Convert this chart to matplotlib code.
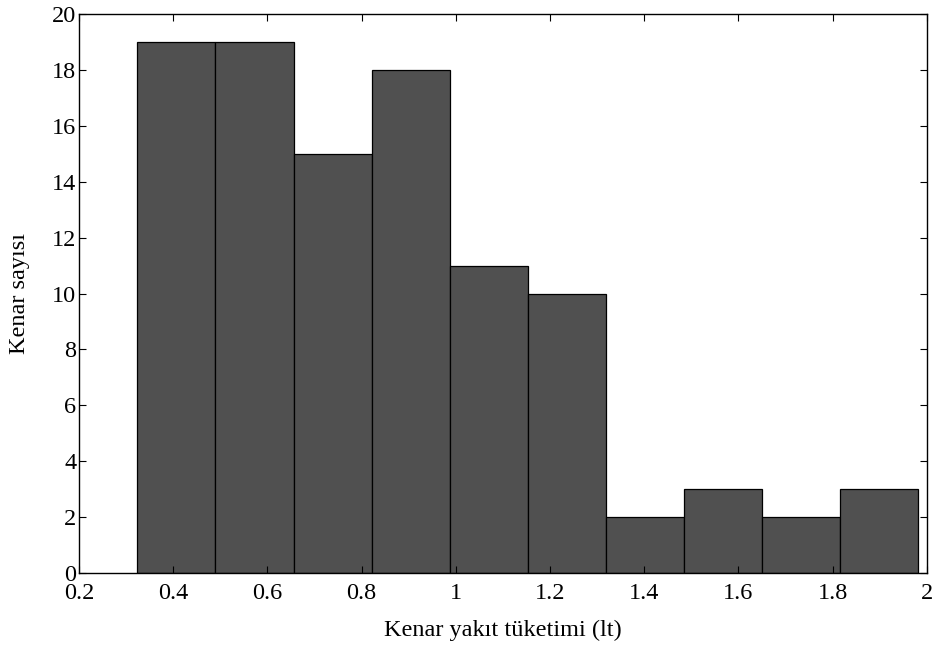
import numpy as np
import matplotlib
matplotlib.use("Agg")
import matplotlib.pyplot as plt

# histogram of edge fuel consumption
counts = [19, 19, 15, 18, 11, 10, 2, 3, 2, 3]
data_min = 0.324
data_max = 1.981

x_ticks = [0.2, 0.4, 0.6, 0.8, 1.0, 1.2, 1.4, 1.6, 1.8, 2.0]
x_tick_labels = ["0.2", "0.4", "0.6", "0.8", "1", "1.2", "1.4", "1.6", "1.8", "2"]
y_ticks = [0, 2, 4, 6, 8, 10, 12, 14, 16, 18, 20]

plt.rcParams["font.family"] = ["Liberation Serif", "DejaVu Serif"]

edges = np.linspace(data_min, data_max, len(counts) + 1)
centers = (edges[:-1] + edges[1:]) / 2
width = edges[1] - edges[0]

fig = plt.figure(figsize=(9.41, 6.46), dpi=100)
ax = fig.add_axes([0.084, 0.113, 0.901, 0.865])
ax.bar(centers, counts, width=width, color="#505050", edgecolor="black", linewidth=0.9)

ax.set_xlim(0.2, 2.0)
ax.set_ylim(0, 20)
ax.set_xticks(x_ticks)
ax.set_xticklabels(x_tick_labels)
ax.set_yticks(y_ticks)
ax.tick_params(direction="in", top=True, right=True, length=5, width=0.8,
               labelsize=17.5)
ax.tick_params(axis="x", pad=7.5)
ax.tick_params(axis="y", pad=2)
for s in ax.spines.values():
    s.set_linewidth(1.0)

ax.set_xlabel("Kenar yakıt tüketimi (lt)", fontsize=17.5, labelpad=11)
ax.set_ylabel("Kenar sayısı", fontsize=17.5, labelpad=16)

fig.savefig("out.png", dpi=100)
